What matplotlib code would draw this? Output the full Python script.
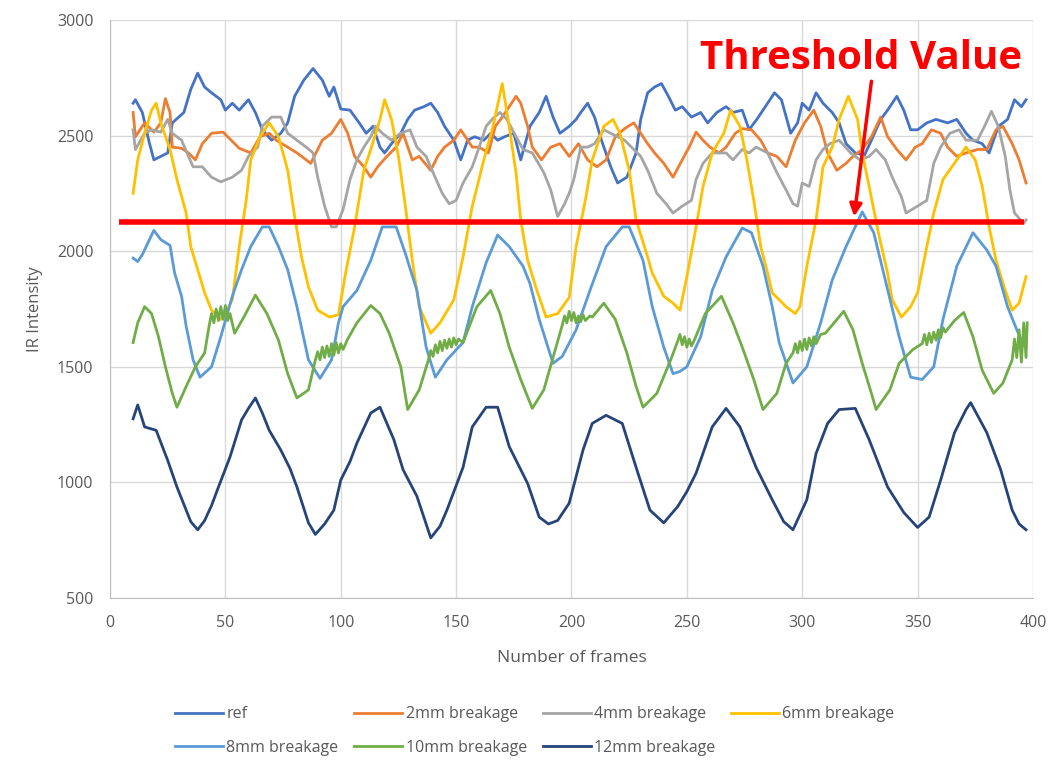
import matplotlib
matplotlib.use("Agg")
import matplotlib.pyplot as plt

plt.rcParams['font.family'] = ['Open Sans', 'DejaVu Sans']

# (frame, IR intensity)
ref_pts = [(10,2640),(11,2655),(14,2600),(17,2470),(19,2395),(22,2410),(25,2425),(27,2555),(32,2600),(35,2700),(38,2770),(41,2710),(44,2685),(48,2655),(50,2610),(53,2640),(56,2610),(60,2655),(63,2600),(66,2525),(70,2480),(74,2510),(77,2555),(80,2670),(84,2740),(88,2790),(92,2740),(95,2670),(97,2710),(100,2615),(104,2610),(108,2555),(111,2510),(114,2540),(117,2450),(119,2425),(122,2465),(126,2510),(129,2570),(132,2610),(136,2625),(139,2640),(142,2600),(145,2540),(149,2480),(152,2395),(155,2480),(158,2495),(162,2480),(165,2510),(168,2480),(171,2495),(175,2510),(178,2395),(182,2540),(186,2600),(189,2670),(192,2580),(195,2510),(199,2540),(202,2570),(204,2600),(207,2640),(210,2580),(213,2480),(217,2365),(220,2295),(224,2320),(228,2425),(230,2570),(233,2685),(236,2710),(239,2725),(242,2670),(245,2610),(248,2625),(252,2580),(256,2600),(259,2555),(263,2600),(267,2625),(270,2600),(274,2610),(277,2525),(281,2580),(285,2640),(288,2685),(291,2655),(295,2510),(298,2555),(300,2640),(303,2610),(306,2685),(309,2640),(313,2600),(316,2555),(319,2465),(323,2425),(327,2415),(330,2480),(334,2570),(337,2610),(341,2670),(344,2610),(347,2525),(350,2525),(354,2555),(358,2570),(363,2555),(367,2570),(371,2510),(374,2480),(378,2465),(381,2425),(385,2540),(389,2570),(392,2655),(395,2625),(397,2655)]

mm2_pts = [(10,2600),(11,2495),(15,2555),(19,2515),(22,2555),(24,2660),(26,2600),(27,2450),(31,2445),(34,2425),(37,2395),(40,2465),(44,2510),(49,2515),(53,2475),(56,2445),(61,2425),(65,2495),(69,2510),(72,2480),(77,2450),(81,2425),(85,2395),(87,2380),(92,2480),(96,2510),(100,2570),(103,2510),(106,2410),(110,2365),(113,2320),(116,2365),(120,2410),(124,2450),(127,2510),(131,2395),(134,2410),(139,2350),(142,2410),(145,2450),(149,2480),(152,2525),(157,2450),(160,2450),(164,2425),(167,2540),(170,2580),(174,2640),(176,2670),(178,2640),(181,2540),(183,2450),(187,2395),(191,2450),(195,2465),(199,2410),(203,2465),(207,2395),(211,2365),(215,2395),(219,2495),(223,2530),(227,2555),(230,2510),(233,2465),(236,2425),(240,2380),(244,2320),(248,2395),(251,2450),(254,2515),(257,2480),(260,2450),(264,2425),(267,2450),(271,2510),(274,2530),(278,2525),(282,2480),(285,2425),(289,2410),(293,2365),(297,2480),(301,2555),(305,2610),(308,2540),(311,2425),(315,2350),(319,2380),(322,2410),(326,2440),(330,2495),(334,2580),(337,2495),(341,2440),(345,2395),(349,2450),(352,2465),(356,2525),(360,2510),(363,2450),(367,2410),(371,2425),(376,2440),(380,2440),(384,2525),(387,2540),(391,2465),(394,2395),(397,2295)]

mm4_pts = [(10,2525),(11,2440),(15,2510),(18,2525),(22,2515),(25,2570),(27,2510),(31,2480),(34,2410),(36,2365),(40,2365),(44,2320),(48,2300),(53,2320),(57,2350),(60,2410),(64,2450),(66,2540),(70,2580),(74,2580),(77,2510),(81,2480),(85,2450),(88,2425),(90,2320),(93,2195),(96,2105),(98,2105),(101,2180),(104,2310),(107,2395),(110,2450),(113,2495),(115,2540),(118,2510),(122,2480),(126,2510),(130,2525),(133,2450),(137,2410),(140,2340),(144,2250),(147,2205),(150,2220),(153,2295),(157,2365),(160,2450),(163,2540),(166,2575),(169,2600),(172,2570),(176,2495),(179,2440),(183,2425),(188,2340),(191,2265),(194,2150),(197,2205),(199,2250),(201,2310),(204,2450),(207,2450),(210,2465),(214,2525),(218,2505),(223,2480),(226,2450),(230,2410),(233,2350),(237,2250),(241,2205),(244,2165),(248,2195),(252,2220),(254,2310),(257,2380),(261,2425),(264,2425),(267,2425),(270,2395),(274,2440),(277,2425),(280,2450),(285,2425),(289,2340),(293,2265),(296,2205),(298,2195),(300,2295),(303,2280),(306,2395),(309,2440),(312,2465),(316,2480),(321,2425),(325,2395),(329,2410),(332,2440),(336,2395),(339,2320),(343,2235),(345,2165),(350,2195),(354,2220),(357,2380),(360,2450),(364,2510),(368,2525),(371,2480),(376,2480),(379,2540),(382,2605),(385,2540),(388,2410),(390,2265),(392,2165),(396,2120),(397,2135)]

mm6_pts = [(10,2250),(12,2395),(15,2510),(18,2610),(20,2640),(22,2555),(26,2440),(29,2310),(33,2165),(35,2020),(38,1920),(41,1820),(44,1745),(48,1705),(50,1730),(53,1790),(56,2020),(59,2220),(61,2395),(65,2495),(69,2555),(73,2495),(77,2350),(80,2150),(83,1975),(86,1845),(90,1745),(95,1715),(99,1725),(102,1900),(106,2105),(110,2350),(113,2440),(117,2570),(119,2655),(122,2570),(125,2410),(128,2195),(131,1960),(134,1760),(139,1645),(143,1690),(149,1790),(153,1975),(157,2195),(162,2395),(166,2540),(170,2725),(173,2540),(176,2335),(178,2135),(181,1960),(185,1830),(189,1715),(194,1730),(199,1800),(202,2020),(206,2220),(209,2395),(214,2540),(218,2570),(221,2510),(225,2350),(228,2135),(233,1975),(235,1905),(240,1805),(244,1775),(247,1745),(250,1890),(254,2105),(257,2280),(261,2425),(266,2510),(269,2610),(273,2540),(276,2395),(279,2220),(282,2020),(285,1905),(287,1820),(293,1760),(297,1730),(299,1760),(302,1935),(306,2135),(309,2365),(313,2450),(316,2570),(320,2670),(324,2570),(326,2425),(329,2280),(333,2080),(337,1905),(339,1790),(343,1715),(347,1760),(350,1820),(354,2020),(357,2165),(361,2310),(367,2395),(371,2450),(375,2395),(378,2280),(381,2105),(384,1960),(388,1830),(391,1745),(394,1775),(397,1890)]

mm8_pts = [(10,1970),(12,1955),(14,1985),(19,2090),(22,2050),(26,2025),(28,1905),(31,1805),(33,1675),(36,1530),(39,1455),(44,1500),(48,1630),(53,1805),(57,1920),(61,2020),(66,2105),(69,2105),(73,2020),(77,1920),(81,1760),(86,1530),(91,1450),(96,1530),(99,1690),(101,1760),(107,1830),(113,1960),(118,2105),(124,2105),(128,1990),(133,1830),(137,1585),(141,1455),(146,1530),(153,1605),(157,1760),(163,1950),(168,2070),(173,2020),(179,1935),(182,1860),(186,1705),(192,1515),(196,1545),(202,1660),(208,1830),(215,2020),(222,2105),(225,2105),(231,1960),(235,1760),(240,1585),(244,1470),(247,1480),(250,1500),(256,1630),(261,1830),(267,1975),(274,2100),(278,2080),(283,1935),(287,1760),(290,1605),(296,1430),(302,1500),(308,1690),(313,1875),(319,2020),(326,2170),(331,2080),(336,1875),(342,1630),(347,1455),(352,1445),(357,1500),(361,1705),(367,1935),(374,2080),(380,2005),(384,1935),(389,1760),(393,1660),(395,1615),(397,1580)]

mm10_pts = [(10,1605),(12,1690),(15,1760),(18,1730),(21,1630),(24,1500),(27,1385),(29,1325),(33,1415),(37,1500),(41,1560),(43,1680),(44,1730),(45,1690),(46,1750),(47,1700),(48,1760),(49,1705),(50,1765),(51,1700),(52,1730),(54,1645),(58,1715),(63,1810),(68,1730),(73,1615),(77,1470),(81,1365),(86,1400),(89,1530),(90,1565),(91,1530),(92,1585),(93,1540),(94,1590),(95,1545),(96,1600),(97,1550),(98,1605),(99,1560),(100,1600),(101,1575),(103,1620),(107,1690),(113,1765),(117,1730),(121,1645),(126,1500),(129,1315),(134,1400),(138,1530),(139,1570),(140,1545),(141,1595),(142,1560),(143,1610),(144,1570),(145,1615),(146,1580),(147,1620),(148,1585),(149,1625),(150,1595),(151,1620),(153,1605),(159,1760),(165,1830),(169,1730),(173,1585),(178,1445),(183,1320),(188,1400),(193,1575),(196,1680),(197,1720),(198,1690),(199,1740),(200,1700),(201,1735),(202,1690),(203,1720),(204,1695),(205,1725),(206,1700),(208,1720),(209,1715),(214,1775),(219,1705),(224,1560),(228,1415),(231,1325),(237,1385),(243,1530),(246,1610),(247,1640),(248,1595),(249,1630),(250,1585),(251,1620),(252,1590),(253,1610),(258,1730),(265,1805),(270,1690),(274,1585),(279,1445),(283,1315),(289,1385),(293,1515),(296,1560),(297,1600),(298,1560),(299,1610),(300,1570),(301,1620),(302,1575),(303,1625),(304,1590),(305,1630),(306,1600),(308,1640),(310,1645),(318,1740),(322,1660),(326,1515),(330,1385),(332,1315),(338,1400),(342,1515),(348,1575),(352,1600),(353,1640),(354,1595),(355,1645),(356,1605),(357,1650),(358,1615),(359,1660),(360,1625),(361,1670),(362,1650),(366,1700),(370,1735),(374,1630),(378,1485),(383,1385),(387,1430),(391,1530),(392,1620),(393,1540),(394,1660),(395,1520),(396,1690),(397,1540),(397.5,1690)]

mm12_pts = [(10,1275),(12,1335),(15,1240),(20,1225),(25,1095),(29,980),(33,880),(35,830),(38,795),(41,835),(44,900),(47,980),(52,1110),(57,1270),(60,1320),(63,1365),(66,1300),(69,1225),(74,1140),(78,1060),(81,980),(86,825),(89,775),(93,820),(97,880),(100,1010),(104,1090),(107,1170),(113,1300),(117,1325),(123,1185),(127,1055),(133,940),(136,850),(139,760),(143,810),(146,880),(153,1065),(157,1240),(163,1325),(168,1325),(173,1155),(181,995),(186,850),(190,820),(194,835),(199,910),(205,1140),(209,1255),(215,1290),(222,1255),(228,1065),(234,880),(240,825),(246,895),(250,960),(254,1040),(261,1240),(267,1320),(273,1240),(280,1065),(287,925),(292,830),(296,795),(302,925),(306,1125),(311,1255),(316,1315),(323,1320),(329,1185),(337,980),(344,870),(350,805),(355,850),(360,1010),(366,1215),(371,1315),(373,1345),(380,1215),(386,1055),(391,880),(394,820),(397,795)]

labels = ['ref', '2mm breakage', '4mm breakage', '6mm breakage',
          '8mm breakage', '10mm breakage', '12mm breakage']
series = [ref_pts, mm2_pts, mm4_pts, mm6_pts, mm8_pts, mm10_pts, mm12_pts]
colors = ['#4472C4', '#ED7D31', '#A5A5A5', '#FFC000', '#5B9BD5', '#70AD47', '#264478']

threshold = 2128
thr_start, thr_end = 4, 396

fig = plt.figure(figsize=(10.59, 7.60), dpi=100)
ax = fig.add_axes([0.1039, 0.2132, 0.8715, 0.7605])

lines = []
for pts, lab, c in zip(series, labels, colors):
    x, y = zip(*pts)
    ln, = ax.plot(x, y, color=c, lw=2.0, label=lab, solid_joinstyle='round')
    lines.append(ln)

ax.hlines(threshold, thr_start, thr_end, color='#FF0000', lw=4, zorder=5)

ax.annotate('', xy=(322.5, 2150), xytext=(330, 2735),
            arrowprops=dict(arrowstyle='-|>', color='#FF0000', lw=2.5,
                            mutation_scale=18, shrinkA=0, shrinkB=0), zorder=6)
ax.text(325.5, 2786, 'Threshold Value', color='#FF0000', fontsize=29,
        fontweight='bold', ha='center', va='baseline', zorder=6)

ax.set_xlim(0, 400)
ax.set_ylim(500, 3000)
ax.set_xticks(range(0, 401, 50))
ax.set_yticks(range(500, 3001, 500))
ax.grid(True, color='#D9D9D9', lw=1.0)
ax.set_axisbelow(True)
for s in ['top', 'right']:
    ax.spines[s].set_visible(False)
for s in ['left', 'bottom']:
    ax.spines[s].set_color('#BFBFBF')
ax.tick_params(length=0, labelsize=11.5, labelcolor='#595959', pad=12)
ax.set_xlabel('Number of frames', fontsize=12.5, color='#595959', labelpad=14)
ax.set_ylabel('IR Intensity', fontsize=12, color='#595959', labelpad=10)

order = [0, 4, 1, 5, 2, 6, 3]
fig.legend([lines[i] for i in order], [labels[i] for i in order],
           loc='center', bbox_to_anchor=(0.505, 0.038), ncol=4, frameon=False,
           fontsize=11.5, labelcolor='#595959', handlelength=3.0,
           handletextpad=0.2, columnspacing=1.0, labelspacing=1.1)

fig.savefig('out.png', dpi=100)
